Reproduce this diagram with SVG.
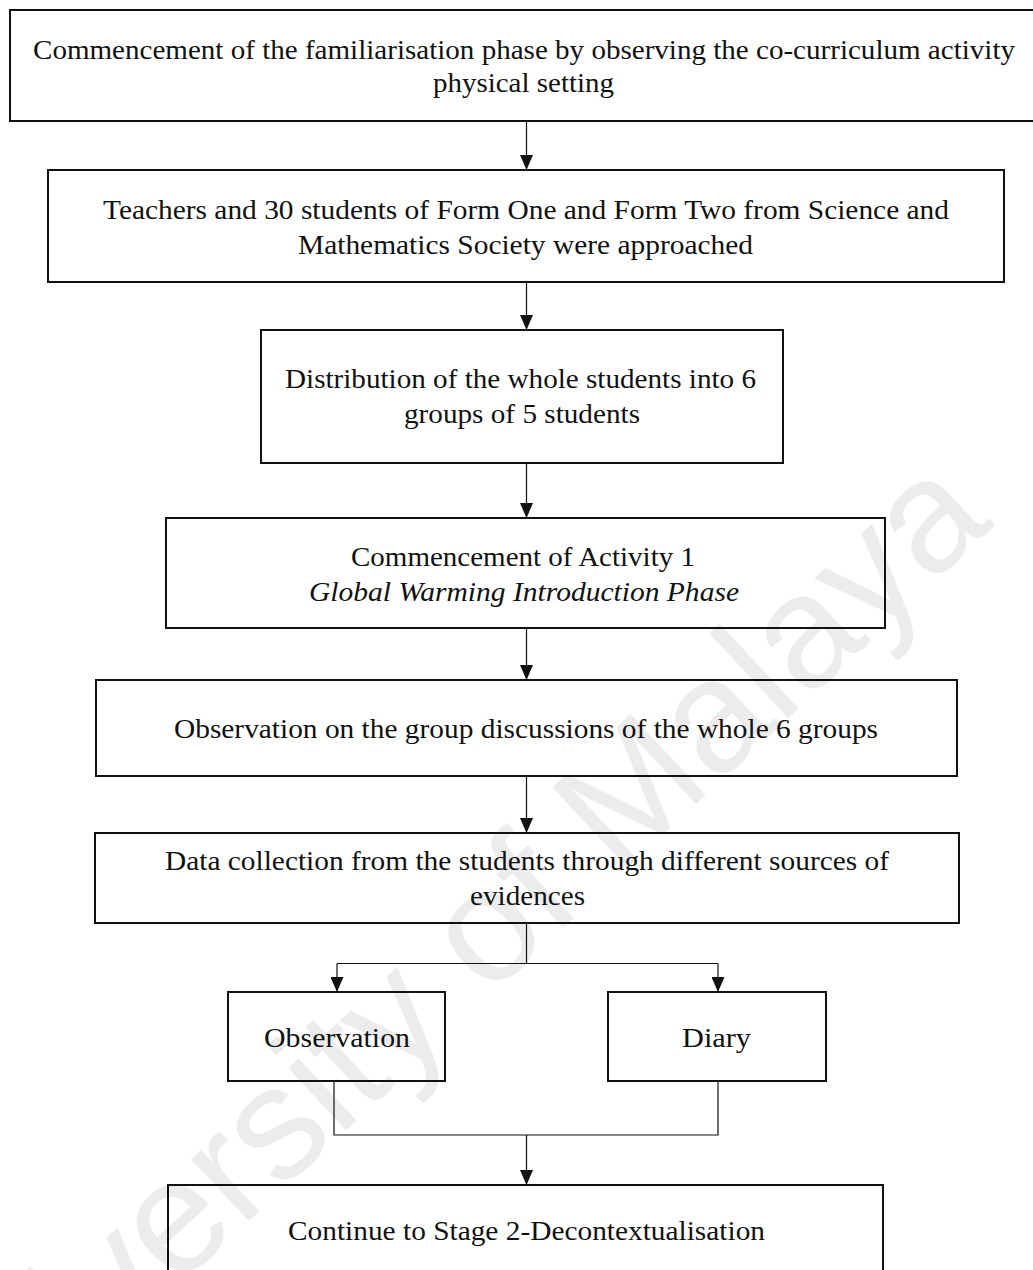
<svg xmlns="http://www.w3.org/2000/svg" width="1033" height="1270" viewBox="0 0 1033 1270">
  <style>
    .box { fill: none; stroke: #111; stroke-width: 2; }
    .link { fill: none; stroke: #111; stroke-width: 1.2; }
    .t { font-family: "Liberation Serif", "Times New Roman", serif; font-size: 27px; fill: #111; }
    .it { font-style: italic; }
    .wm { font-family: "Liberation Sans", Arial, sans-serif; font-size: 160px; fill: #ececec; }
  </style>
  <defs>
    <marker id="arrow" markerWidth="15" markerHeight="13" refX="15" refY="6.5" orient="auto" markerUnits="userSpaceOnUse">
      <path d="M0,0 L15,6.5 L0,13 Z" fill="#111"/>
    </marker>
  </defs>

  <rect width="1033" height="1270" fill="#fff"/>

  <!-- faint diagonal watermark -->
  <text class="wm" x="995" y="525" text-anchor="end" transform="rotate(-43 995 525)">University of Malaya</text>

  <!-- connectors -->
  <g id="connectors">
    <line class="link" x1="526.5" y1="121" x2="526.5" y2="170" marker-end="url(#arrow)"/>
    <line class="link" x1="526.5" y1="282" x2="526.5" y2="330" marker-end="url(#arrow)"/>
    <line class="link" x1="526.5" y1="463" x2="526.5" y2="518" marker-end="url(#arrow)"/>
    <line class="link" x1="526.5" y1="628" x2="526.5" y2="680" marker-end="url(#arrow)"/>
    <line class="link" x1="526.5" y1="776" x2="526.5" y2="833" marker-end="url(#arrow)"/>
    <!-- split to the two evidence sources -->
    <polyline class="link" points="526.5,923 526.5,963.5"/>
    <polyline class="link" points="337,963.5 718,963.5"/>
    <line class="link" x1="337" y1="963.5" x2="337" y2="992" marker-end="url(#arrow)"/>
    <line class="link" x1="718" y1="963.5" x2="718" y2="992" marker-end="url(#arrow)"/>
    <!-- merge towards stage 2 -->
    <polyline class="link" points="334,1081 334,1135 718,1135 718,1081"/>
    <line class="link" x1="526.5" y1="1135" x2="526.5" y2="1185" marker-end="url(#arrow)"/>
  </g>

  <g id="familiarisation">
    <rect class="box" x="10" y="10" width="1040" height="111"/>
    <text class="t" x="33" y="59" textLength="982" lengthAdjust="spacingAndGlyphs">Commencement of the familiarisation phase by observing the co-curriculum activity</text>
    <text class="t" x="433" y="92" textLength="181" lengthAdjust="spacingAndGlyphs">physical setting</text>
  </g>

  <g id="approach">
    <rect class="box" x="48" y="170" width="956" height="112"/>
    <text class="t" x="103" y="219" textLength="846" lengthAdjust="spacingAndGlyphs">Teachers and 30 students of Form One and Form Two from Science and</text>
    <text class="t" x="298" y="254" textLength="455" lengthAdjust="spacingAndGlyphs">Mathematics Society were approached</text>
  </g>

  <g id="grouping">
    <rect class="box" x="261" y="330" width="522" height="133"/>
    <text class="t" x="285" y="388" textLength="471" lengthAdjust="spacingAndGlyphs">Distribution of the whole students into 6</text>
    <text class="t" x="404" y="423" textLength="236" lengthAdjust="spacingAndGlyphs">groups of 5 students</text>
  </g>

  <g id="activity1">
    <rect class="box" x="166" y="518" width="719" height="110"/>
    <text class="t" x="351" y="566" textLength="344" lengthAdjust="spacingAndGlyphs">Commencement of Activity 1</text>
    <text class="t it" x="309" y="601" textLength="430" lengthAdjust="spacingAndGlyphs">Global Warming Introduction Phase</text>
  </g>

  <g id="group-observation">
    <rect class="box" x="96" y="680" width="861" height="96"/>
    <text class="t" x="174" y="738" textLength="704" lengthAdjust="spacingAndGlyphs">Observation on the group discussions of the whole 6 groups</text>
  </g>

  <g id="data-collection">
    <rect class="box" x="95" y="833" width="864" height="90"/>
    <text class="t" x="165" y="870" textLength="724" lengthAdjust="spacingAndGlyphs">Data collection from the students through different sources of</text>
    <text class="t" x="470" y="905" textLength="115" lengthAdjust="spacingAndGlyphs">evidences</text>
  </g>

  <g id="observation">
    <rect class="box" x="228" y="992" width="217" height="89"/>
    <text class="t" x="264" y="1047" textLength="146" lengthAdjust="spacingAndGlyphs">Observation</text>
  </g>

  <g id="diary">
    <rect class="box" x="608" y="992" width="218" height="89"/>
    <text class="t" x="682" y="1047" textLength="69" lengthAdjust="spacingAndGlyphs">Diary</text>
  </g>

  <g id="stage2">
    <rect class="box" x="168" y="1185" width="715" height="120"/>
    <text class="t" x="288" y="1240" textLength="477" lengthAdjust="spacingAndGlyphs">Continue to Stage 2-Decontextualisation</text>
  </g>
</svg>
